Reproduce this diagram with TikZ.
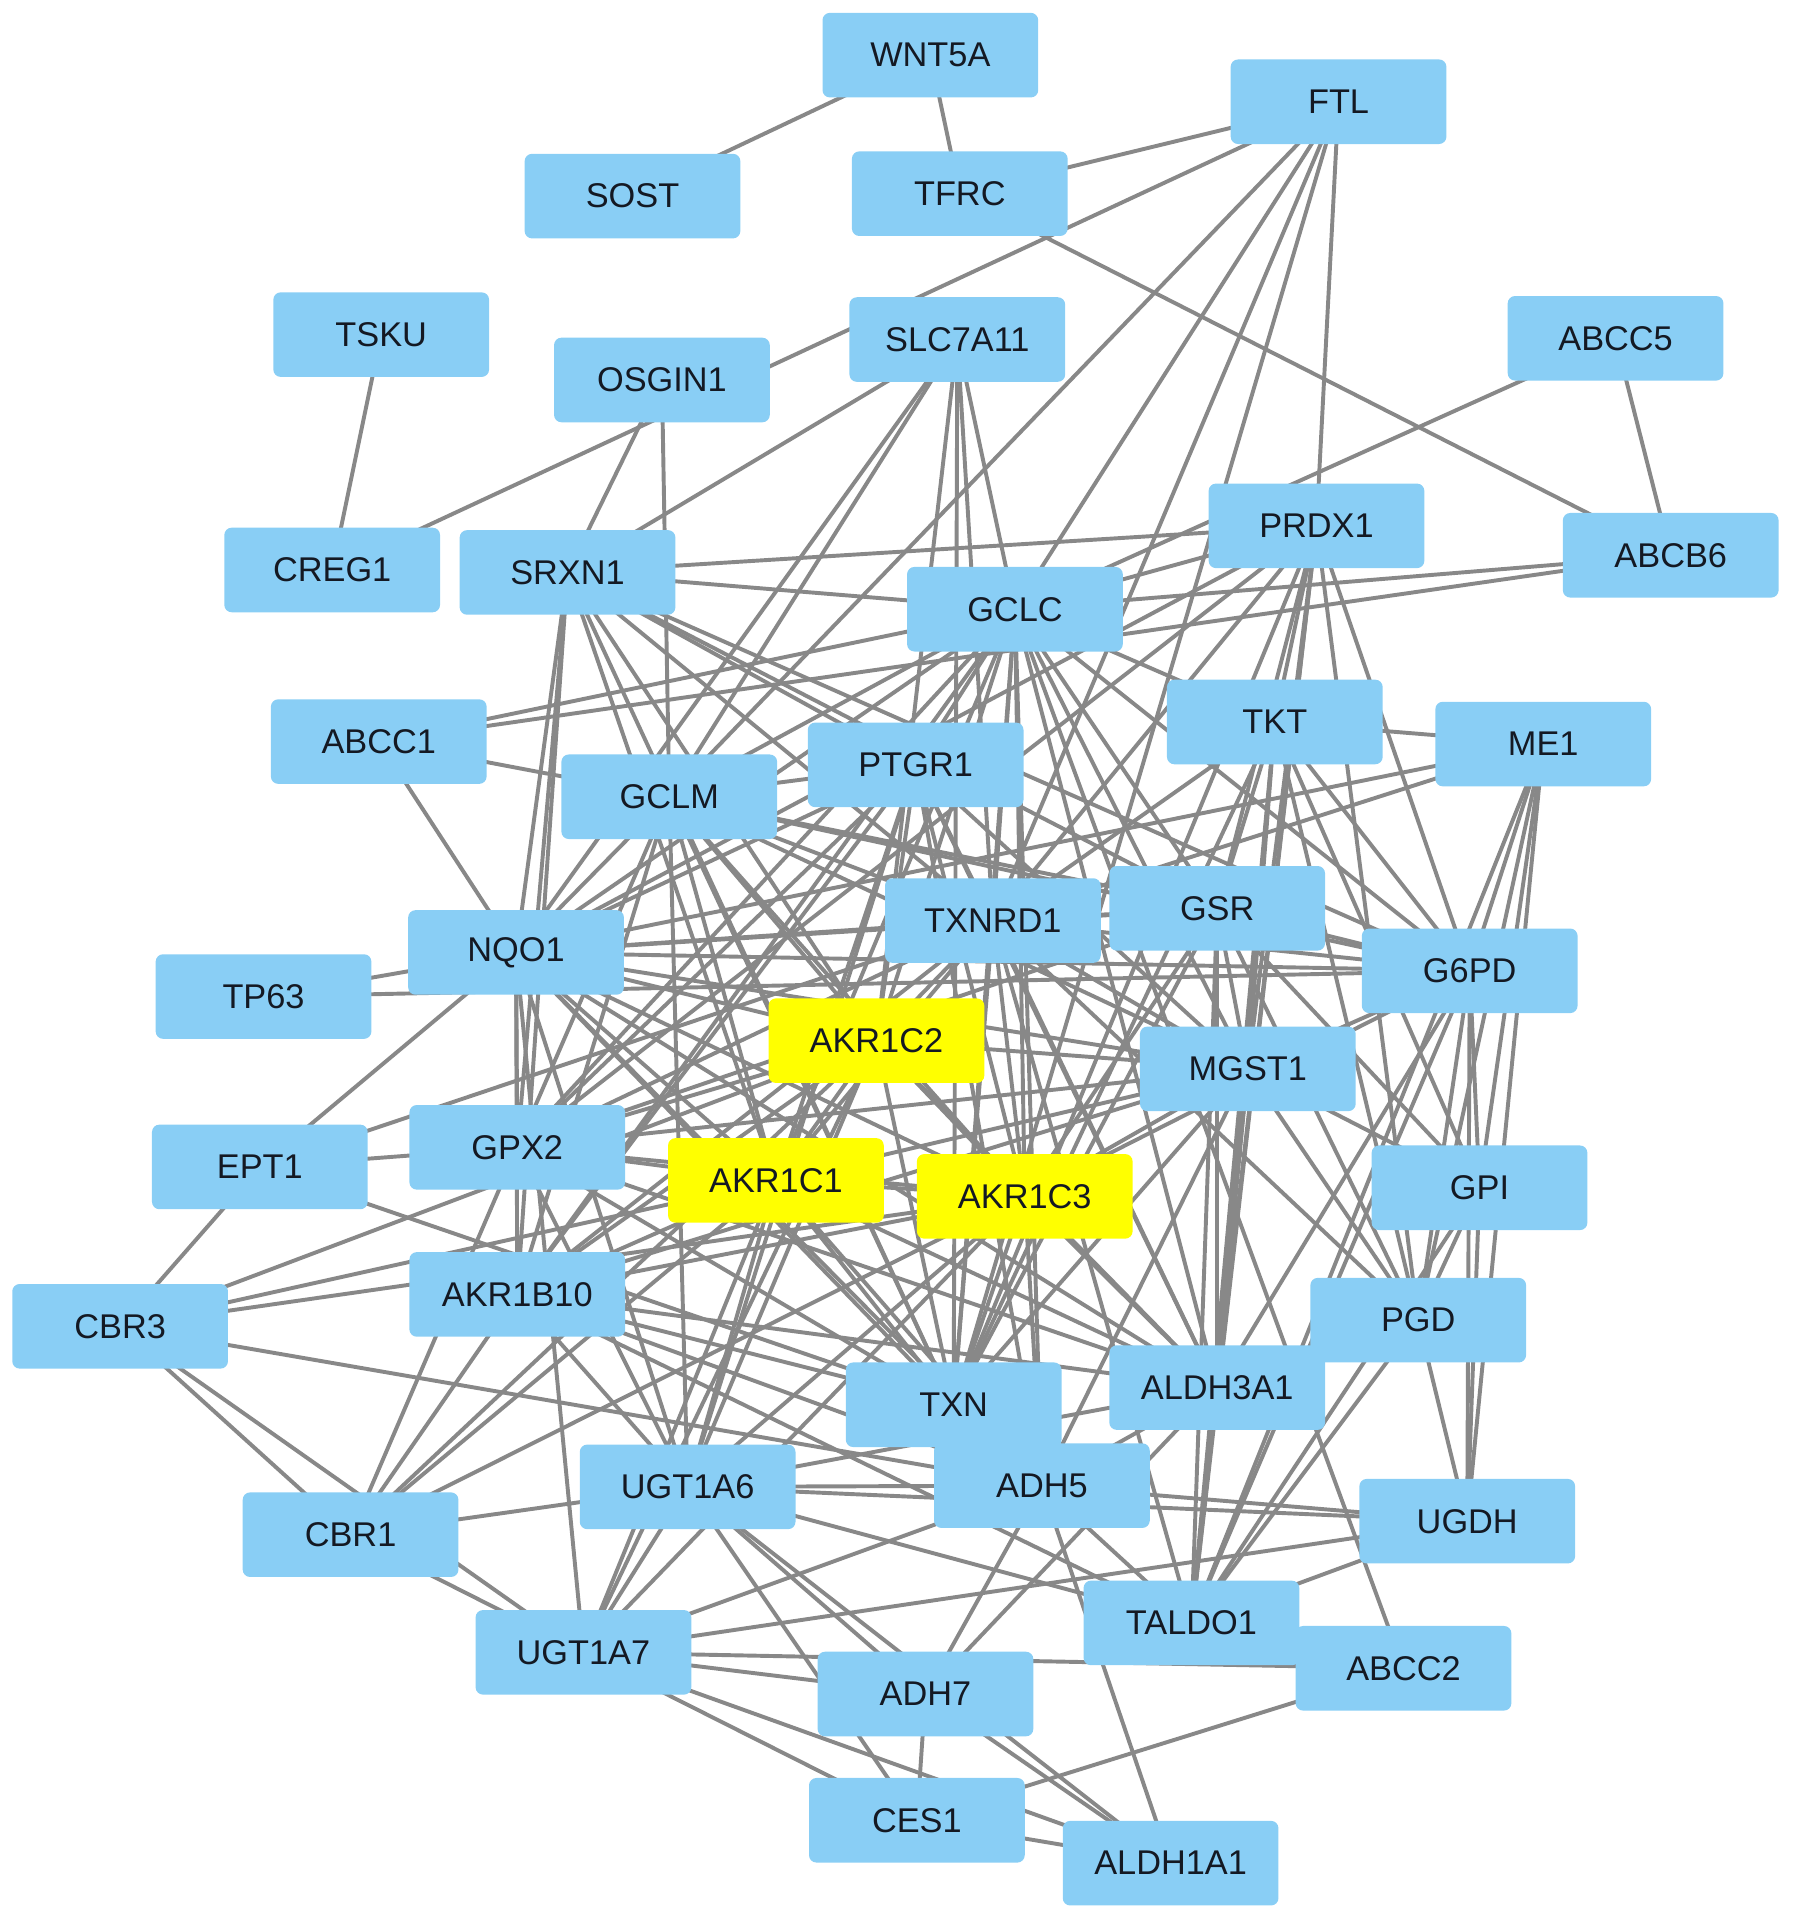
\documentclass[tikz,border=0pt]{standalone}
\usepackage{fontspec}
\setmainfont{Liberation Sans}
\usetikzlibrary{backgrounds}
\definecolor{nodeblue}{RGB}{137,206,245}
\definecolor{nodeyellow}{RGB}{255,255,0}
\definecolor{edgegray}{RGB}{136,136,136}
\definecolor{labeltext}{RGB}{20,25,35}
\tikzset{
  gene/.style={rectangle, rounded corners=3pt, fill=nodeblue, draw=none,
    minimum width=88pt, minimum height=34.5pt, inner sep=0pt,
    font=\fontsize{14}{16}\selectfont, text=labeltext},
  seed/.style={gene, fill=nodeyellow},
  edge/.style={draw=edgegray, line width=1.6pt}
}
\begin{document}
\begin{tikzpicture}[x=0.5pt, y=-0.5pt]
\useasboundingbox (0,0) rectangle (1464,1568);
\node[gene] (wnt) at (759,45) {WNT5A};
\node[gene] (ftl) at (1092,83) {FTL};
\node[gene] (sost) at (516,160) {SOST};
\node[gene] (tfrc) at (783,158) {TFRC};
\node[gene] (tsku) at (311,273) {TSKU};
\node[gene] (slc) at (781,277) {SLC7A11};
\node[gene] (abcc5) at (1318,276) {ABCC5};
\node[gene] (osg) at (540,310) {OSGIN1};
\node[gene] (prdx) at (1074,429) {PRDX1};
\node[gene] (abcb6) at (1363,453) {ABCB6};
\node[gene] (creg) at (271,465) {CREG1};
\node[gene] (srxn) at (463,467) {SRXN1};
\node[gene] (gclc) at (828,497) {GCLC};
\node[gene] (tkt) at (1040,589) {TKT};
\node[gene] (me1) at (1259,607) {ME1};
\node[gene] (abcc1) at (309,605) {ABCC1};
\node[gene] (ptgr) at (747,624) {PTGR1};
\node[gene] (gclm) at (546,650) {GCLM};
\node[gene] (txnrd) at (810,751) {TXNRD1};
\node[gene] (gsr) at (993,741) {GSR};
\node[gene] (nqo) at (421,777) {NQO1};
\node[gene] (g6pd) at (1199,792) {G6PD};
\node[gene] (tp63) at (215,813) {TP63};
\node[seed] (c2) at (715,849) {AKR1C2};
\node[gene] (mgst) at (1018,872) {MGST1};
\node[gene] (gpx) at (422,936) {GPX2};
\node[gene] (ept) at (212,952) {EPT1};
\node[seed] (c1) at (633,963) {AKR1C1};
\node[seed] (c3) at (836,976) {AKR1C3};
\node[gene] (gpi) at (1207,969) {GPI};
\node[gene] (b10) at (422,1056) {AKR1B10};
\node[gene] (cbr3) at (98,1082) {CBR3};
\node[gene] (pgd) at (1157,1077) {PGD};
\node[gene] (aldh3) at (993,1132) {ALDH3A1};
\node[gene] (txn) at (778,1146) {TXN};
\node[gene] (u6) at (561,1213) {UGT1A6};
\node[gene] (adh5) at (850,1212) {ADH5};
\node[gene] (ugdh) at (1197,1241) {UGDH};
\node[gene] (cbr1) at (286,1252) {CBR1};
\node[gene] (taldo) at (972,1324) {TALDO1};
\node[gene] (abcc2) at (1145,1361) {ABCC2};
\node[gene] (u7) at (476,1348) {UGT1A7};
\node[gene] (adh7) at (755,1382) {ADH7};
\node[gene] (ces) at (748,1485) {CES1};
\node[gene] (aldh1) at (955,1520) {ALDH1A1};
\begin{scope}[on background layer]
\foreach \a/\b in {
  wnt/sost, wnt/tfrc, tfrc/ftl, tfrc/abcb6,
  ftl/creg, ftl/gclm, ftl/gclc, ftl/txnrd, ftl/txn, ftl/prdx,
  tsku/creg, osg/srxn, osg/gclm, abcc5/gclc, abcc5/abcb6, abcb6/gclc, abcb6/abcc1,
  slc/srxn, slc/nqo, slc/gclm, slc/c2, slc/txn, slc/txnrd, slc/gclc,
  srxn/prdx, srxn/gclc, srxn/nqo, srxn/gpx, srxn/b10, srxn/c1, srxn/c2, srxn/txnrd, srxn/gsr, srxn/g6pd, srxn/txn, srxn/ptgr,
  abcc1/gclm, abcc1/gclc, abcc1/nqo,
  prdx/nqo, prdx/gpx, prdx/txnrd, prdx/txn, prdx/gsr, prdx/tkt, prdx/mgst, prdx/aldh3, prdx/taldo, prdx/pgd, prdx/g6pd, prdx/gclc,
  gclc/gclm, gclc/nqo, gclc/gpx, gclc/c1, gclc/c2, gclc/c3, gclc/b10, gclc/txnrd, gclc/txn, gclc/gsr, gclc/mgst, gclc/g6pd, gclc/ptgr, gclc/tkt, gclc/abcc2, gclc/adh5, gclc/aldh3,
  gclm/nqo, gclm/txnrd, gclm/gsr, gclm/g6pd, gclm/c1, gclm/c2, gclm/c3, gclm/gpx, gclm/b10, gclm/txn, gclm/mgst, gclm/u6, gclm/ptgr,
  ptgr/nqo, ptgr/c1, ptgr/c2, ptgr/c3, ptgr/b10, ptgr/gpx, ptgr/txnrd, ptgr/mgst, ptgr/aldh3, ptgr/u6, ptgr/adh5,
  txnrd/nqo, txnrd/txn, txnrd/gsr, txnrd/g6pd, txnrd/tkt, txnrd/me1, txnrd/ept, txnrd/gpx, txnrd/c1, txnrd/c2, txnrd/c3, txnrd/b10, txnrd/mgst, txnrd/pgd, txnrd/aldh3, txnrd/taldo,
  gsr/nqo, gsr/g6pd, gsr/tkt, gsr/gpx, gsr/txn, gsr/mgst, gsr/pgd, gsr/taldo, gsr/c3, gsr/gpi, gsr/aldh3,
  nqo/tp63, nqo/ept, nqo/me1, nqo/u7, nqo/gpx, nqo/b10, nqo/c1, nqo/c2, nqo/c3, nqo/txn, nqo/mgst, nqo/g6pd, nqo/aldh3, nqo/u6, nqo/adh5,
  tp63/g6pd,
  g6pd/tkt, g6pd/me1, g6pd/pgd, g6pd/gpi, g6pd/ugdh, g6pd/taldo, g6pd/mgst, g6pd/aldh3, g6pd/c3,
  tkt/me1, tkt/pgd, tkt/taldo, tkt/gpi, tkt/mgst, tkt/aldh3, tkt/txn,
  me1/pgd, me1/gpi, me1/ugdh, me1/taldo,
  mgst/gpx, mgst/b10, mgst/c1, mgst/c2, mgst/c3, mgst/txn, mgst/aldh3, mgst/pgd, mgst/gpi, mgst/taldo, mgst/adh5,
  c2/c1, c2/c3, c2/gpx, c2/b10, c2/cbr3, c2/cbr1, c2/txn, c2/u6, c2/u7, c2/aldh3,
  c1/c3, c1/gpx, c1/b10, c1/cbr3, c1/cbr1, c1/txn, c1/u6, c1/u7, c1/adh5, c1/aldh3,
  c3/gpx, c3/b10, c3/cbr3, c3/cbr1, c3/txn, c3/u6, c3/u7, c3/adh5, c3/aldh3,
  gpx/ept, gpx/b10, gpx/txn, gpx/cbr1, gpx/aldh3, gpx/u6,
  ept/txn, ept/cbr3,
  b10/cbr1, b10/u6, b10/txn, b10/aldh3, b10/adh5, b10/taldo,
  cbr3/cbr1, cbr3/u7, cbr3/adh5,
  pgd/gpi, pgd/taldo, pgd/ugdh, gpi/ugdh, gpi/taldo,
  aldh3/adh5, aldh3/adh7, aldh3/taldo, txn/adh5,
  u6/u7, u6/cbr1, u6/adh7, u6/ces, u6/aldh1, u6/adh5, u6/ugdh, u6/taldo, u6/aldh3,
  adh5/ugdh, adh5/u7, adh5/adh7, adh5/aldh1, adh5/taldo,
  ugdh/u7, ugdh/taldo, cbr1/u7,
  abcc2/u7, abcc2/ces,
  u7/adh7, u7/ces, u7/aldh1, adh7/ces, adh7/aldh1, ces/aldh1}
  \draw[edge] (\a.center) -- (\b.center);
\end{scope}
\end{tikzpicture}
\end{document}
